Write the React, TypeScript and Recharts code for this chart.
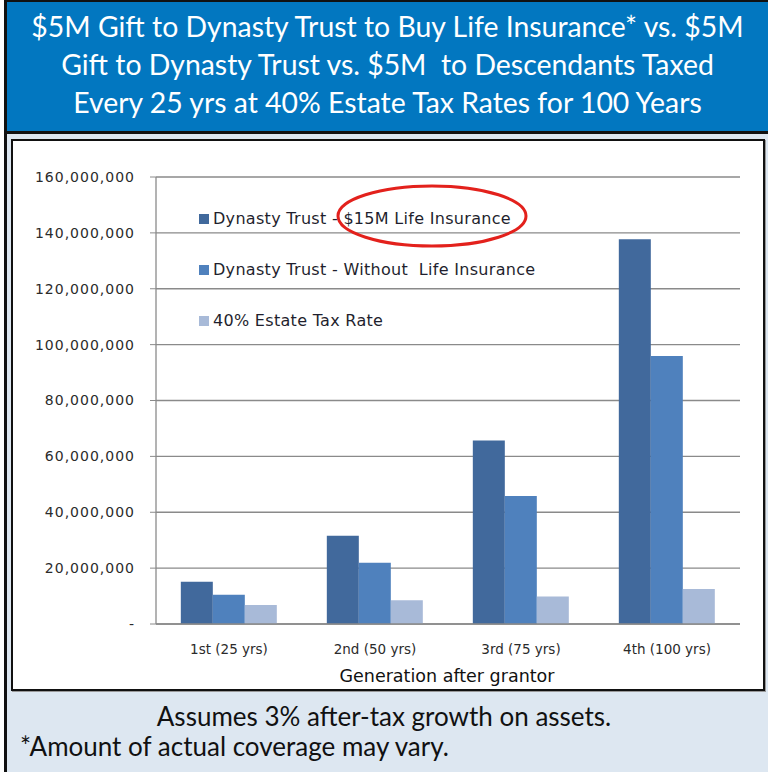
import React from "react"
import { BarChart, Bar, XAxis, YAxis, CartesianGrid, Legend } from "recharts"

const generations = ["1st (25 yrs)", "2nd (50 yrs)", "3rd (75 yrs)", "4th (100 yrs)"]
const withInsurance = [15100000, 31600000, 65700000, 137700000]
const withoutInsurance = [10500000, 21900000, 45800000, 95900000]
const estateTax = [6800000, 8500000, 9800000, 12500000]
const yTicks = [0, 20000000, 40000000, 60000000, 80000000, 100000000, 120000000, 140000000, 160000000]
const edgeTicks = [0, 1, 2, 3, 4]

const seriesInfo = [
  { key: "insured", name: "Dynasty Trust - $15M Life Insurance", color: "#41699c" },
  { key: "uninsured", name: "Dynasty Trust - Without  Life Insurance", color: "#4f81bd" },
  { key: "taxed", name: "40% Estate Tax Rate", color: "#a8bad8" },
]

const data = generations.map((g, i) => ({
  gen: g,
  insured: withInsurance[i],
  uninsured: withoutInsurance[i],
  taxed: estateTax[i],
}))

const yTickFont = { fontFamily: "DejaVu Sans", fontSize: 14, fill: "#2b2b2b", letterSpacing: 1 }
const xTickFont = { fontFamily: "DejaVu Sans", fontSize: 13.5, fill: "#2b2b2b" }

function LegendBox() {
  return (
    <div style={{ fontFamily: "DejaVu Sans", fontSize: 16, letterSpacing: 0.3, color: "#1f1f2e" }}>
      {seriesInfo.map((s) => (
        <div key={s.key} style={{ height: 51, display: "flex", alignItems: "center" }}>
          <span style={{ width: 10, height: 10, background: s.color, marginRight: 4, display: "inline-block" }} />
          <span style={{ whiteSpace: "pre" }}>{s.name}</span>
        </div>
      ))}
    </div>
  )
}

export default function App() {
  return (
    <div style={{ position: "absolute", left: 0, top: 0, width: 768, height: 772, background: "#fff", overflow: "hidden" }}>
      {/* header */}
      <div
        style={{
          position: "absolute", left: 4, top: 0, width: 764, height: 134,
          background: "#0277c0", borderLeft: "3px solid #111", borderTop: "2px solid #111", borderBottom: "3px solid #111",
          color: "#fff", fontFamily: "Lato", fontSize: 28.4, textAlign: "center", lineHeight: "38px",
          paddingTop: 5, boxSizing: "border-box",
        }}
      >
        $5M Gift to Dynasty Trust to Buy Life Insurance* vs. $5M<br />
        Gift to Dynasty Trust vs. $5M&nbsp; to Descendants Taxed<br />
        Every 25 yrs at 40% Estate Tax Rates for 100 Years
      </div>
      {/* lower panel */}
      <div style={{ position: "absolute", left: 4, top: 134, width: 764, height: 638, background: "#dde7f1", borderLeft: "3px solid #111", boxSizing: "border-box" }} />
      <div style={{ position: "absolute", left: 11, top: 139, width: 754, height: 552, background: "#fff", border: "2px solid #111", boxSizing: "border-box", boxShadow: "1px 1px 0 #999" }} />
      <div style={{ position: "absolute", left: 0, top: 700, width: 768, textAlign: "center", fontFamily: "Lato", fontSize: 26, color: "#111", lineHeight: "32px" }}>
        Assumes 3% after-tax growth on assets.
      </div>
      <div style={{ position: "absolute", left: 20, top: 730, fontFamily: "Lato", fontSize: 26, color: "#111", lineHeight: "32px" }}>
        *Amount of actual coverage may vary.
      </div>
      <div style={{ position: "absolute", left: 0, top: 665, width: 894, textAlign: "center", fontFamily: "DejaVu Sans", fontSize: 17.5, color: "#111", lineHeight: "22px" }}>
        Generation after grantor
      </div>
      <div style={{ position: "absolute", left: 0, top: 0 }}>
        <BarChart width={768} height={700} data={data} margin={{ top: 177, right: 28, left: 0, bottom: 36 }} barGap={0} barCategoryGap="17%">
          <CartesianGrid horizontal vertical={false} stroke="#8a8a8a" strokeWidth={1.3} xAxisId="cat" />
          <XAxis
            xAxisId="edge" type="number" domain={[0, 4]} ticks={edgeTicks} allowDataOverflow
            tick={false} axisLine={false} tickLine={{ stroke: "#8a8a8a" }} tickSize={6} height={0}
          />
          <XAxis
            xAxisId="cat" dataKey="gen" height={40} tickLine={false}
            axisLine={{ stroke: "#8a8a8a", strokeWidth: 1.3 }} tick={xTickFont} tickMargin={14}
          />
          <YAxis
            width={156} domain={[0, 160000000]} ticks={yTicks} interval={0}
            tickFormatter={(v: number) => (v === 0 ? "-" : v.toLocaleString("en-US"))}
            tick={yTickFont} tickSize={6} tickMargin={15}
            tickLine={{ stroke: "#8a8a8a" }} axisLine={{ stroke: "#8a8a8a", strokeWidth: 1.3 }}
          />
          <Legend
            layout="horizontal" verticalAlign="middle" align="center"
            wrapperStyle={{ left: 199, top: 193, width: 420 }}
            content={() => <LegendBox />}
          />
          {seriesInfo.map((s) => (
            <Bar key={s.key} xAxisId="cat" dataKey={s.key} name={s.name} fill={s.color} isAnimationActive={false} />
          ))}
        </BarChart>
      </div>
      <svg style={{ position: "absolute", left: 0, top: 0, pointerEvents: "none" }} width={768} height={772}>
        <ellipse cx={432} cy={216} rx={94} ry={30} fill="none" stroke="#e3211c" strokeWidth={3} />
      </svg>
    </div>
  )
}
